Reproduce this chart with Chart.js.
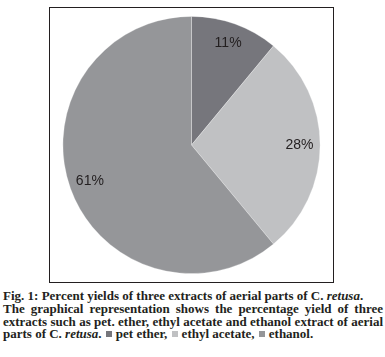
<!DOCTYPE html>
<html><head><meta charset="utf-8">
<script src="https://cdn.jsdelivr.net/npm/chart.js@4/dist/chart.umd.min.js"></script>
<style>
html,body{margin:0;padding:0;background:#fff;width:385px;height:357px;overflow:hidden;}
#box{position:absolute;left:49px;top:7px;width:283px;height:274px;border:1.5px solid #231f20;}
#box canvas{display:block;}
#cap{position:absolute;left:3px;top:290px;width:380px;font-family:"Liberation Serif","Times New Roman",serif;font-weight:bold;font-size:13px;line-height:12.8px;color:#231f20;}
.j{text-align:justify;text-align-last:justify;white-space:nowrap;}
.l{text-align:left;white-space:nowrap;}
.sq{display:inline-block;width:6px;height:6px;margin:0 4px 1px 1px;}
</style></head>
<body>
<div id="box"><canvas id="c" width="283" height="274"></canvas></div>
<div id="cap">
<div class="l">Fig. 1: Percent yields of three extracts of aerial parts of C. <i>retusa</i>.</div>
<div class="j">The graphical representation shows the percentage yield of three</div>
<div class="j">extracts such as pet. ether, ethyl acetate and ethanol extract of aerial</div>
<div class="l">parts of C. <i>retusa</i>. <span class="sq" style="background:#76767c"></span>pet ether, <span class="sq" style="background:#c0c1c3"></span>ethyl acetate, <span class="sq" style="background:#959699"></span>ethanol.</div>
</div>
<script>
const categories = ["pet ether", "ethyl acetate", "ethanol"];
const yields = [11, 28, 61];
const sliceColors = ["#76767c", "#c0c1c3", "#959699"];

const labelPlugin = {
  id: 'pctLabels',
  afterDatasetsDraw(chart) {
    const ctx = chart.ctx;
    const meta = chart.getDatasetMeta(0);
    ctx.save();
    ctx.font = '14px "Liberation Sans", Arial, sans-serif';
    ctx.fillStyle = '#231f20';
    ctx.textAlign = 'center';
    ctx.textBaseline = 'middle';
    meta.data.forEach((arc, i) => {
      const p = arc.getProps(['x','y','startAngle','endAngle','outerRadius'], true);
      const mid = (p.startAngle + p.endAngle) / 2;
      const r = p.outerRadius * 0.84;
      ctx.fillText(yields[i] + '%', p.x + Math.cos(mid) * r, p.y + Math.sin(mid) * r);
    });
    ctx.restore();
  }
};

new Chart(document.getElementById('c'), {
  type: 'pie',
  data: {
    labels: categories,
    datasets: [{
      data: yields,
      backgroundColor: sliceColors,
      borderColor: 'rgba(255,255,255,0.35)',
      borderWidth: 0.8
    }]
  },
  options: {
    responsive: false,
    animation: false,
    layout: { padding: 8 },
    plugins: { legend: { display: false }, tooltip: { enabled: false } }
  },
  plugins: [labelPlugin]
});
</script>
</body></html>
